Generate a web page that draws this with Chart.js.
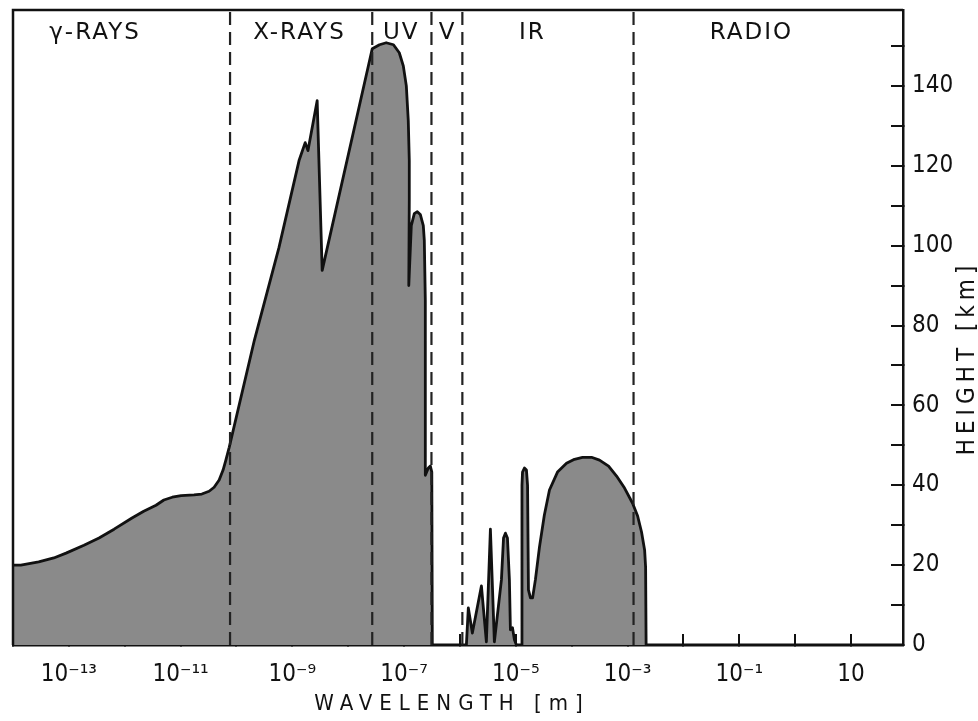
<!DOCTYPE html>
<html>
<head>
<meta charset="utf-8">
<script src="https://cdn.jsdelivr.net/npm/chart.js@4.4.1/dist/chart.umd.min.js"></script>
<style>
  body { margin: 0; background: #fff; }
  canvas { display: block; }
</style>
</head>
<body>
<canvas id="absorption" width="978" height="721"></canvas>
<script>
// log10 of wavelength in metres, and the height (km) the radiation gets down to
const logWavelength = [
  -14.00, -13.86, -13.54, -13.27, -13.05, -12.73, -12.46, -12.19, -11.87, -11.66, -11.44, -11.30, -11.15,
  -10.99, -10.76, -10.62, -10.49, -10.40, -10.31, -10.24, -10.19, -10.13,
  -9.68, -9.24, -8.88, -8.77, -8.72, -8.556, -8.466,
  -7.57, -7.44, -7.32, -7.19, -7.086, -7.014, -6.96, -6.925, -6.907, -6.907, -6.916,
  -6.871, -6.817, -6.763, -6.71, -6.656, -6.638, -6.62, -6.62, -6.566, -6.53, -6.504, -6.495,
  -5.885, -5.85, -5.778, -5.616, -5.527, -5.455, -5.384,
  -5.258, -5.22, -5.186, -5.15, -5.115, -5.097, -5.06, -5.025, -4.99,
  -4.90, -4.89, -4.88, -4.846, -4.81, -4.79, -4.774, -4.738, -4.70,
  -4.65, -4.577, -4.49, -4.398, -4.254, -4.093, -3.95, -3.806, -3.645, -3.502,
  -3.34, -3.197, -3.054, -2.91, -2.82, -2.75, -2.695, -2.677, -2.668,
  1.93
];
const heightKm = [
  20.0, 20.0, 20.8, 21.8, 23.0, 25.0, 26.8, 29.0, 31.8, 33.5, 35.0, 36.3, 37.0,
  37.4, 37.6, 37.8, 38.5, 39.5, 41.3, 43.8, 46.3, 49.5,
  76.3, 99.5, 121.3, 125.8, 123.8, 136.3, 93.8,
  149.3, 150.3, 150.8, 150.3, 148.3, 145.0, 140.0, 131.3, 121.3, 111.3, 90.0,
  105.0, 108.0, 108.5, 107.8, 105.0, 101.3, 86.3, 42.5, 44.3, 44.8, 43.3, 0,
  0, 9.3, 3.0, 14.8, 0.8, 29.0, 0.8,
  16.3, 26.8, 28.0, 26.8, 16.3, 3.8, 4.3, 1.3, 0,
  0, 40.0, 43.3, 44.3, 43.8, 40.0, 13.8, 11.8, 11.8,
  16.3, 24.5, 32.5, 38.8, 43.3, 45.5, 46.5, 47.0, 47.0, 46.3,
  44.8, 42.3, 39.3, 35.5, 32.3, 28.3, 23.8, 19.5, 0,
  0
];

// band boundaries (log10 m) and band names
const bandEdges = [-10.115, -7.57, -6.51, -5.957, -2.893];
const bandNames = ['γ-RAYS', 'X-RAYS', 'UV', 'V', 'IR', 'RADIO'];
const bandLabelAt = [-12.55, -8.89, -7.07, -6.24, -4.72, -0.80];

const xTickLabelled = [-13, -11, -9, -7, -5, -3, -1, 1];
const yMax = 159;

const sup = { '-': '⁻', '0': '⁰', '1': '¹', '2': '²', '3': '³', '4': '⁴', '5': '⁵', '6': '⁶', '7': '⁷', '8': '⁸', '9': '⁹' };
function powerLabel(e) {
    if (e === 1) return '10';
    return '10' + String(e).split('').map(c => sup[c]).join('');
}

const ink = '#111';

const datasets = [{
    data: logWavelength.map((x, i) => ({ x: x, y: heightKm[i] })),
    borderColor: ink,
    borderWidth: 2.8,
    borderJoinStyle: 'round',
    backgroundColor: '#8a8a8a',
    fill: 'origin',
    pointRadius: 0,
    tension: 0,
    order: 1
}];
bandEdges.forEach(b => {
    datasets.push({
        data: [{ x: b, y: 0 }, { x: b, y: yMax }],
        borderColor: '#222',
        borderWidth: 2.2,
        borderDash: [13, 7],
        fill: false,
        pointRadius: 0,
        order: 0
    });
});

// frame on top/left, band names, axis titles
const decorations = {
    id: 'decorations',
    afterDraw(chart) {
        const { ctx, chartArea: a, scales } = chart;
        ctx.save();
        ctx.strokeStyle = ink;
        ctx.lineWidth = 2.5;
        ctx.beginPath();
        ctx.moveTo(a.left, a.bottom);
        ctx.lineTo(a.left, a.top);
        ctx.lineTo(a.right, a.top);
        ctx.stroke();

        ctx.fillStyle = ink;
        ctx.textBaseline = 'middle';
        ctx.textAlign = 'center';
        ctx.font = '23px "DejaVu Sans"';
        ctx.letterSpacing = '2px';
        bandNames.forEach((name, i) => {
            ctx.fillText(name, scales.x.getPixelForValue(bandLabelAt[i]) + 1, 33);
        });

        ctx.font = '22px "DejaVu Sans Condensed"';
        ctx.letterSpacing = '7px';
        ctx.fillText('WAVELENGTH [m]', 452, 704);

        ctx.font = '24px "DejaVu Sans Condensed"';
        ctx.letterSpacing = '5px';
        ctx.translate(968, 358);
        ctx.rotate(-Math.PI / 2);
        ctx.fillText('HEIGHT [km]', 0, 0);
        ctx.restore();
    }
};

new Chart(document.getElementById('absorption'), {
    type: 'line',
    data: { datasets: datasets },
    options: {
        responsive: false,
        animation: false,
        layout: { padding: { left: 13, top: 10, right: 0, bottom: 0 } },
        plugins: { legend: { display: false }, tooltip: { enabled: false } },
        scales: {
            x: {
                type: 'linear',
                min: -14,
                max: 1.93,
                z: 1,
                border: { display: true, color: ink, width: 2.5 },
                grid: { drawOnChartArea: false, drawTicks: true, tickLength: -11, color: ink, lineWidth: 2 },
                ticks: {
                    stepSize: 1,
                    includeBounds: false,
                    autoSkip: false,
                    maxRotation: 0,
                    padding: 26,
                    color: ink,
                    font: { family: '"DejaVu Sans Condensed"', size: 24 },
                    callback: v => xTickLabelled.includes(v) ? powerLabel(v) : ''
                },
                afterFit: s => {
                    s.height = 76;
                    s.paddingLeft = 0; s.paddingRight = 0; s.paddingTop = 0; s.paddingBottom = 0;
                }
            },
            y: {
                position: 'right',
                min: 0,
                max: yMax,
                z: 1,
                border: { display: true, color: ink, width: 2.5 },
                grid: { drawOnChartArea: false, drawTicks: true, tickLength: -12, color: ink, lineWidth: 2 },
                ticks: {
                    stepSize: 10,
                    includeBounds: false,
                    autoSkip: false,
                    padding: 21,
                    color: ink,
                    font: { family: '"DejaVu Sans Condensed"', size: 24 },
                    callback: v => v % 20 === 0 ? String(v) : ''
                },
                afterFit: s => {
                    s.width = 75;
                    s.paddingLeft = 0; s.paddingRight = 0; s.paddingTop = 0; s.paddingBottom = 0;
                }
            }
        }
    },
    plugins: [decorations]
});
</script>
</body>
</html>
